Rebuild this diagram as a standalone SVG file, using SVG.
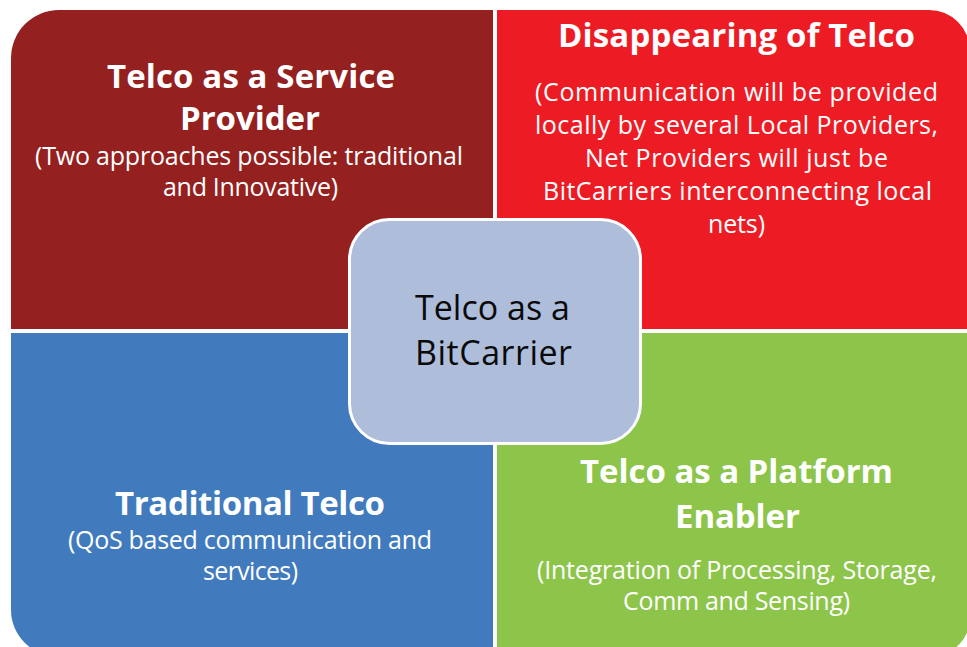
<svg xmlns="http://www.w3.org/2000/svg" width="967" height="647" viewBox="0 0 967 647">
<style>
.t{font-family:"Open Sans","Noto Sans","Liberation Sans",sans-serif;font-weight:700;font-size:33px;fill:#fff;text-anchor:middle}
.s{font-family:"Open Sans","Noto Sans","Liberation Sans",sans-serif;font-weight:400;font-size:25px;fill:#fff;text-anchor:middle}
.c{font-family:"Open Sans","Noto Sans","Liberation Sans",sans-serif;font-weight:400;font-size:34px;fill:#0a0a0a;text-anchor:middle}
</style>
<rect width="967" height="647" fill="#fff"/>
<g id="service-provider">
<path d="M11,58 A48,48 0 0 1 59,10 L493,10 L493,329 L11,329 Z" fill="#94201F"/>
<text class="t" x="251" y="88" textLength="288">Telco as a Service</text>
<text class="t" x="250" y="130" textLength="140">Provider</text>
<text class="s" x="249" y="165" textLength="428">(Two approaches possible: traditional</text>
<text class="s" x="250.5" y="196" textLength="175">and Innovative)</text>
</g>
<g id="disappearing">
<path d="M497,10 L929,10 A41,41 0 0 1 970,51 L970,329 L497,329 Z" fill="#ED1C24"/>
<text class="t" x="736.5" y="47" textLength="357">Disappearing of Telco</text>
<text class="s" x="736.5" y="101" textLength="403">(Communication will be provided</text>
<text class="s" x="736.5" y="134" textLength="403">locally by several Local Providers,</text>
<text class="s" x="736.5" y="167" textLength="303">Net Providers will just be</text>
<text class="s" x="737.5" y="200" textLength="389">BitCarriers interconnecting local</text>
<text class="s" x="736.5" y="233" textLength="57">nets)</text>
</g>
<g id="traditional">
<path d="M11,333 L493,333 L493,656 L57,656 A46,46 0 0 1 11,610 Z" fill="#417BBD"/>
<text class="t" x="250" y="515" textLength="270">Traditional Telco</text>
<text class="s" x="250" y="549" textLength="364">(QoS based communication and</text>
<text class="s" x="250.5" y="580" textLength="95">services)</text>
</g>
<g id="platform-enabler">
<path d="M497,333 L970,333 L970,618 A38,38 0 0 1 932,656 L497,656 Z" fill="#8DC54B"/>
<text class="t" x="736.5" y="483" textLength="313">Telco as a Platform</text>
<text class="t" x="737.5" y="528" textLength="125">Enabler</text>
<text class="s" x="737" y="579" textLength="400">(Integration of Processing, Storage,</text>
<text class="s" x="736.5" y="610" textLength="227">Comm and Sensing)</text>
</g>
<g id="bitcarrier">
<rect x="349.5" y="219.5" width="291" height="224" rx="40" ry="40" fill="#ADBDDA" stroke="#fff" stroke-width="3"/>
<text class="c" x="492.5" y="320" textLength="155">Telco as a</text>
<text class="c" x="493.5" y="365" textLength="157">BitCarrier</text>
</g>
<g id="connectors"/>
</svg>
